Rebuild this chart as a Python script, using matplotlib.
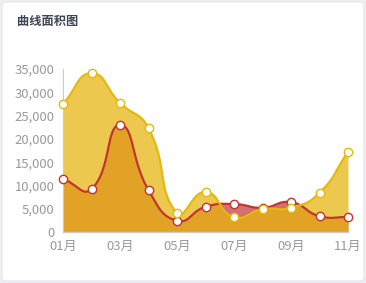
import numpy as np
import matplotlib
matplotlib.use('Agg')
import matplotlib.pyplot as plt
from matplotlib.patches import FancyBboxPatch
from matplotlib.ticker import FuncFormatter

plt.rcParams['font.family'] = ['Noto Sans CJK SC', 'DejaVu Sans']

months = ['01月', '02月', '03月', '04月', '05月', '06月', '07月', '08月', '09月', '10月', '11月']
series_yellow = [27500, 34100, 27700, 22300, 4100, 8600, 3200, 4900, 5200, 8400, 17200]
series_red = [11400, 9200, 23000, 9000, 2400, 5400, 6000, 5200, 6400, 3400, 3200]

px_x = 28.5
px_y = 163 / 35000


def smooth_curve(ys, smooth=0.5, n=30):
    # bezier smoothing in screen space, similar to echarts smooth lines
    pts = np.column_stack([np.arange(len(ys)) * px_x, np.array(ys, float) * px_y])
    cps = []
    for i, p in enumerate(pts):
        prev = pts[i - 1] if i > 0 else p
        nxt = pts[i + 1] if i < len(pts) - 1 else p
        v = nxt - prev
        d0 = np.hypot(*(p - prev))
        d1 = np.hypot(*(nxt - p))
        tot = d0 + d1 if d0 + d1 > 0 else 1
        cps.append((p - v * smooth * d0 / tot, p + v * smooth * d1 / tot))
    out = [pts[0]]
    t = np.linspace(0, 1, n)[1:, None]
    for i in range(len(pts) - 1):
        a, b = pts[i], pts[i + 1]
        c1, c2 = cps[i][1], cps[i + 1][0]
        seg = (1 - t) ** 3 * a + 3 * (1 - t) ** 2 * t * c1 + 3 * (1 - t) * t ** 2 * c2 + t ** 3 * b
        out.extend(seg)
    out = np.array(out)
    return out[:, 0] / px_x, out[:, 1] / px_y


fig = plt.figure(figsize=(3.66, 2.83), dpi=100, facecolor='#EDEFF2')
card = FancyBboxPatch((2 / 366, 2 / 283), 362 / 366, 279 / 283,
                      boxstyle='round,pad=0,rounding_size=0.012',
                      transform=fig.transFigure, facecolor='white',
                      edgecolor='#E3E6EA', linewidth=0.8, zorder=-10)
fig.patches.append(card)
fig.text(17 / 366, 1 - 22 / 283, '曲线面积图', fontsize=8.8, fontweight='bold',
         color='#3E4654', va='center', ha='left', zorder=5)

ax = fig.add_axes([63 / 366, 51 / 283, 285 / 366, 163 / 283])
ax.set_zorder(5)
ax.set_facecolor('none')

x = np.arange(len(months))
rx, ry = smooth_curve(series_red)
yx, yy = smooth_curve(series_yellow)

ax.fill_between(rx, 0, ry, color='#C23531', alpha=0.7, linewidth=0, zorder=1)
ax.fill_between(yx, 0, yy, color='#E6B50C', alpha=0.73, linewidth=0, zorder=2)
ax.plot(rx, ry, color='#C23531', lw=1.6, zorder=3)
ax.plot(yx, yy, color='#E5B80B', lw=1.6, zorder=4)
ax.scatter(x, series_red, s=36, facecolor='white', edgecolor='#C23531', linewidth=1.0, zorder=5, clip_on=False)
ax.scatter(x, series_yellow, s=36, facecolor='white', edgecolor='#E5B80B', linewidth=1.0, zorder=6, clip_on=False)

ax.set_xlim(0, 10)
ax.set_ylim(0, 35000)
ax.set_yticks(range(0, 35001, 5000))
ax.yaxis.set_major_formatter(FuncFormatter(lambda v, p: f'{int(v):,}'))
ax.set_xticks(x[::2])
ax.set_xticklabels(months[::2])

for s in ['top', 'right']:
    ax.spines[s].set_visible(False)
ax.spines['left'].set_color('#CCCCCC')
ax.spines['bottom'].set_color('#CCCCCC')
ax.spines['left'].set_linewidth(0.8)
ax.spines['bottom'].set_linewidth(1.0)
ax.tick_params(length=0, colors='#999999', labelsize=9.4)
ax.tick_params(axis='y', pad=6)
ax.tick_params(axis='x', pad=6)

fig.savefig('out.png', dpi=100, facecolor=fig.get_facecolor())
